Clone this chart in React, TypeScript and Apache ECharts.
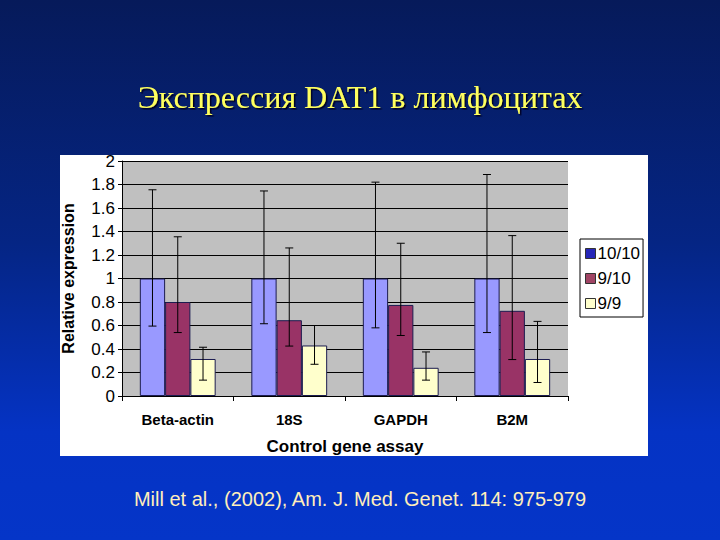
import React, { useEffect, useRef } from "react";
import * as echarts from "echarts";

// Control gene assays (x categories)
const categories: string[] = ["Beta-actin", "18S", "GAPDH", "B2M"];
const seriesNames: string[] = ["10/10", "9/10", "9/9"];

// mean relative expression per group
const values10of10: number[] = [1.0, 1.0, 1.0, 1.0];
const values9of10: number[] = [0.8, 0.645, 0.775, 0.725];
const values9of9: number[] = [0.315, 0.43, 0.24, 0.315];

// error bar ends (low / high)
const low10of10: number[] = [0.595, 0.615, 0.58, 0.54];
const high10of10: number[] = [1.755, 1.745, 1.82, 1.885];
const low9of10: number[] = [0.54, 0.425, 0.515, 0.31];
const high9of10: number[] = [1.355, 1.26, 1.3, 1.365];
const low9of9: number[] = [0.135, 0.27, 0.135, 0.115];
const high9of9: number[] = [0.415, 0.6, 0.375, 0.635];

const yTicks: number[] = [0, 0.2, 0.4, 0.6, 0.8, 1, 1.2, 1.4, 1.6, 1.8, 2];

const barColors = ["#9999ff", "#993366", "#ffffcc"];
const legendColors = ["#2626b8", "#a04464", "#ffffcc"];

const App: React.FC = () => {
  const chartRef = useRef<HTMLDivElement | null>(null);

  useEffect(() => {
    const chartDom = chartRef.current;
    if (!chartDom) return;
    const myChart = echarts.init(chartDom, undefined, { renderer: "svg" });

    const allValues = [values10of10, values9of10, values9of9];
    const lows = [low10of10, low9of10, low9of9];
    const highs = [high10of10, high9of10, high9of9];
    const catGap = 0.32;

    const barSeries = seriesNames.map((name, i) => ({
      name,
      type: "bar",
      data: allValues[i],
      barGap: "0%",
      barCategoryGap: "32%",
      itemStyle: {
        color: barColors[i],
        borderColor: "#1c1c50",
        borderWidth: 1,
      },
      z: 2,
    }));

    const errorSeries = seriesNames.map((name, i) => ({
      name: name + " error",
      type: "custom",
      z: 5,
      data: categories.map((_, c) => [c, lows[i][c], highs[i][c]]),
      encode: { x: 0, y: [1, 2] },
      renderItem: (params: any, api: any) => {
        const c = api.value(0);
        const band = api.size([1, 0])[0];
        const barW = (band * (1 - catGap)) / 3;
        const off = (i - 1) * barW;
        const pLow = api.coord([c, api.value(1)]);
        const pHigh = api.coord([c, api.value(2)]);
        const x = pLow[0] + off;
        const cap = 4;
        const st = { stroke: "#000", lineWidth: 1 };
        return {
          type: "group",
          children: [
            { type: "line", shape: { x1: x, y1: pLow[1], x2: x, y2: pHigh[1] }, style: st },
            { type: "line", shape: { x1: x - cap, y1: pHigh[1], x2: x + cap, y2: pHigh[1] }, style: st },
            { type: "line", shape: { x1: x - cap, y1: pLow[1], x2: x + cap, y2: pLow[1] }, style: st },
          ],
        };
      },
    }));

    const option = {
      animation: false,
      backgroundColor: new echarts.graphic.LinearGradient(0, 0, 0, 1, [
        { offset: 0, color: "#061a5a" },
        { offset: 0.45, color: "#052584" },
        { offset: 0.8, color: "#0533c4" },
        { offset: 1, color: "#0535c8" },
      ]),
      title: [
        {
          text: "Экспрессия DAT1 в лимфоцитах",
          left: "center",
          top: 76,
          textStyle: {
            fontFamily: "Liberation Serif",
            fontSize: 32,
            fontWeight: "normal",
            color: "#ffff5e",
            textShadowColor: "#000022",
            textShadowOffsetX: 1.5,
            textShadowOffsetY: 1.5,
            textShadowBlur: 1,
          },
        },
        {
          text: "Mill et al., (2002), Am. J. Med. Genet. 114: 975-979",
          left: "center",
          top: 484,
          textStyle: {
            fontFamily: "Liberation Sans",
            fontSize: 20,
            fontWeight: "normal",
            color: "#ffeebb",
          },
        },
      ],
      graphic: [
        {
          type: "rect",
          z: -10,
          shape: { x: 60, y: 155, width: 588, height: 301 },
          style: { fill: "#ffffff" },
        },
      ],
      legend: {
        data: seriesNames.map((n, i) => ({ name: n, itemStyle: { color: legendColors[i], borderColor: "#333", borderWidth: 1 } })),
        orient: "vertical",
        left: 580,
        top: 239,
        padding: [6, 3, 5, 5],
        itemWidth: 10,
        itemHeight: 10,
        itemGap: 8,
        icon: "rect",
        backgroundColor: "#ffffff",
        borderColor: "#000",
        borderWidth: 1,
        textStyle: {
          fontFamily: "Liberation Sans",
          fontSize: 17,
          color: "#000",
          padding: [0, 0, 0, -3],
        },
      },
      grid: {
        left: 122,
        right: 152,
        top: 161,
        bottom: 144,
        show: true,
        backgroundColor: "#c0c0c0",
        borderWidth: 0,
      },
      xAxis: {
        type: "category",
        data: categories,
        name: "Control gene assay",
        nameLocation: "middle",
        nameGap: 42,
        nameTextStyle: {
          fontFamily: "Liberation Sans",
          fontSize: 17,
          fontWeight: "bold",
          color: "#000",
        },
        axisLine: { lineStyle: { color: "#000", width: 1 } },
        axisTick: { show: true, length: 5, lineStyle: { color: "#000" } },
        axisLabel: {
          margin: 16,
          fontFamily: "Liberation Sans",
          fontSize: 15,
          fontWeight: "bold",
          color: "#000",
        },
      },
      yAxis: {
        type: "value",
        min: yTicks[0],
        max: yTicks[yTicks.length - 1],
        interval: 0.2,
        name: "Relative expression",
        nameLocation: "middle",
        nameGap: 46,
        nameTextStyle: {
          fontFamily: "Liberation Sans",
          fontSize: 16,
          fontWeight: "bold",
          color: "#000",
        },
        axisLine: { show: true, lineStyle: { color: "#000", width: 1 } },
        axisTick: { show: true, length: 4, lineStyle: { color: "#000" } },
        axisLabel: {
          margin: 7,
          fontFamily: "Liberation Sans",
          fontSize: 17,
          color: "#000",
          formatter: (v: number) => String(Math.round(v * 10) / 10),
        },
        splitLine: { show: true, lineStyle: { color: "#000", width: 1 } },
      },
      series: [...barSeries, ...errorSeries],
    };

    myChart.setOption(option as any);

    return () => {
      myChart.dispose();
    };
  }, []);

  return (
    <div style={{ position: "fixed", left: 0, top: 0, width: 720, height: 540 }}>
      <div ref={chartRef} style={{ width: 720, height: 540 }} />
    </div>
  );
};

export default App;
